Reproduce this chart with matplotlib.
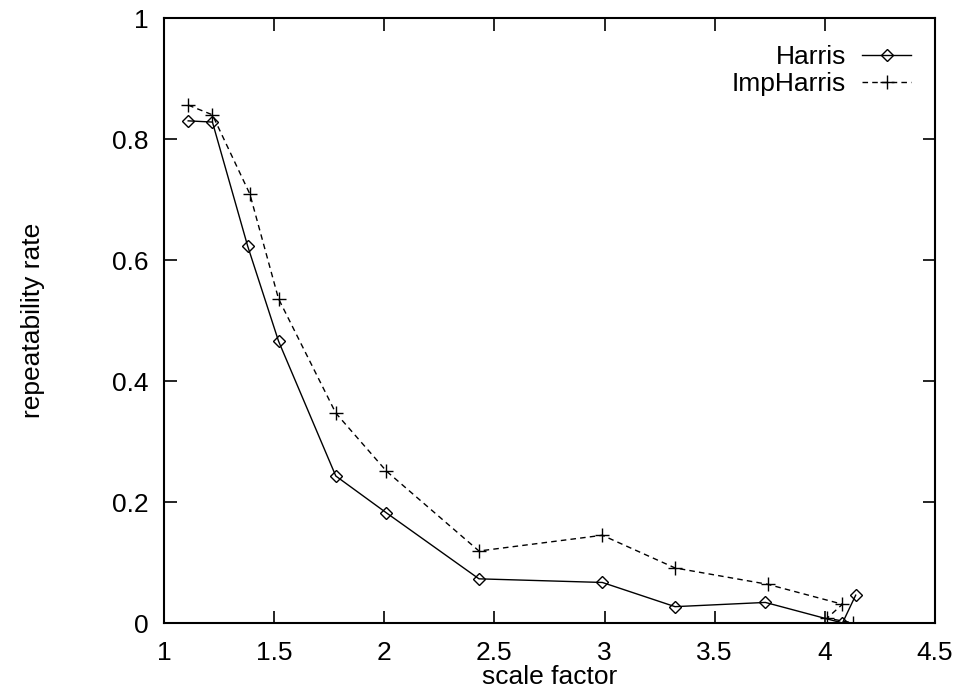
import matplotlib
matplotlib.use("Agg")
import matplotlib.pyplot as plt

harris_x = [1.11, 1.22, 1.38, 1.52, 1.78, 2.01, 2.43, 2.99, 3.32, 3.73, 4.08, 4.14]
harris_y = [0.830, 0.828, 0.623, 0.466, 0.243, 0.182, 0.073, 0.067, 0.027, 0.034, 0.0, 0.046]

imp_x = [1.11, 1.22, 1.39, 1.52, 1.78, 2.01, 2.43, 2.99, 3.32, 3.74, 4.08, 4.01, 4.13]
imp_y = [0.856, 0.840, 0.709, 0.536, 0.347, 0.251, 0.119, 0.145, 0.091, 0.064, 0.031, 0.008, 0.0]

x_ticks = [1, 1.5, 2, 2.5, 3, 3.5, 4, 4.5]
x_ticklabels = ["1", "1.5", "2", "2.5", "3", "3.5", "4", "4.5"]
y_ticks = [0, 0.2, 0.4, 0.6, 0.8, 1.0]
y_ticklabels = ["0", "0.2", "0.4", "0.6", "0.8", "1"]

plt.rcParams['font.family'] = ['Liberation Sans', 'DejaVu Sans']
fs = 19

fig = plt.figure(figsize=(9.69, 6.9), dpi=100)
ax = fig.add_axes([0.1692, 0.0971, 0.7957, 0.8768])

ax.plot(harris_x, harris_y, color='black', lw=1.0, ls='-',
        marker='D', markersize=6, markerfacecolor='none', markeredgewidth=1.0,
        label='Harris')
ax.plot(imp_x, imp_y, color='black', lw=1.0, ls=(0, (4, 3)),
        marker='+', markersize=10, markeredgewidth=1.0,
        label='ImpHarris')

ax.set_xlim(1, 4.5)
ax.set_ylim(0, 1)
ax.set_xticks(x_ticks)
ax.set_xticklabels(x_ticklabels)
ax.set_yticks(y_ticks)
ax.set_yticklabels(y_ticklabels)
ax.tick_params(direction='in', length=9, width=1.2, labelsize=fs,
               top=True, right=True)
ax.tick_params(axis='x', pad=13)
ax.tick_params(axis='y', pad=11)
for s in ax.spines.values():
    s.set_linewidth(1.5)

ax.set_xlabel('scale factor', fontsize=fs, labelpad=0)
ax.set_ylabel('repeatability rate', fontsize=fs, labelpad=48)

leg = ax.legend(loc='upper right', frameon=False, fontsize=fs,
                markerfirst=False, handlelength=1.85, handletextpad=0.6,
                borderpad=0, borderaxespad=0, labelspacing=0.12,
                bbox_to_anchor=(911 / 969, 1 - 45 / 690),
                bbox_transform=fig.transFigure)
for t in leg.get_texts():
    t.set_ha('right')

fig.savefig('out.png', dpi=100)
